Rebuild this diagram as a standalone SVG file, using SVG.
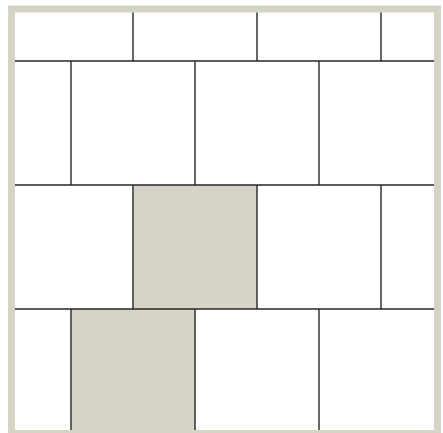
<svg xmlns="http://www.w3.org/2000/svg" width="443" height="433" viewBox="0 0 443 433">
<style>
.frame{fill:#ffffff;stroke:#d6d3c7;stroke-width:7}
.tile{fill:#d6d3c7}
.ln{stroke:#262626;stroke-width:1.4;fill:none}
</style>
<rect width="443" height="433" fill="#ffffff"/>
<rect class="frame" x="11.5" y="9" width="426" height="424.5"/>
<g id="shaded">
<rect class="tile" x="133" y="185" width="124" height="124"/>
<rect class="tile" x="71" y="309" width="124" height="121"/>
</g>
<g id="grid" class="ln">
<line x1="15" y1="61" x2="434" y2="61"/>
<line x1="15" y1="185" x2="434" y2="185"/>
<line x1="15" y1="309" x2="434" y2="309"/>
<line x1="133" y1="12.5" x2="133" y2="61"/>
<line x1="257" y1="12.5" x2="257" y2="61"/>
<line x1="381" y1="12.5" x2="381" y2="61"/>
<line x1="71" y1="61" x2="71" y2="185"/>
<line x1="195" y1="61" x2="195" y2="185"/>
<line x1="319" y1="61" x2="319" y2="185"/>
<line x1="133" y1="185" x2="133" y2="309"/>
<line x1="257" y1="185" x2="257" y2="309"/>
<line x1="381" y1="185" x2="381" y2="309"/>
<line x1="71" y1="309" x2="71" y2="430"/>
<line x1="195" y1="309" x2="195" y2="430"/>
<line x1="319" y1="309" x2="319" y2="430"/>
</g>
</svg>
